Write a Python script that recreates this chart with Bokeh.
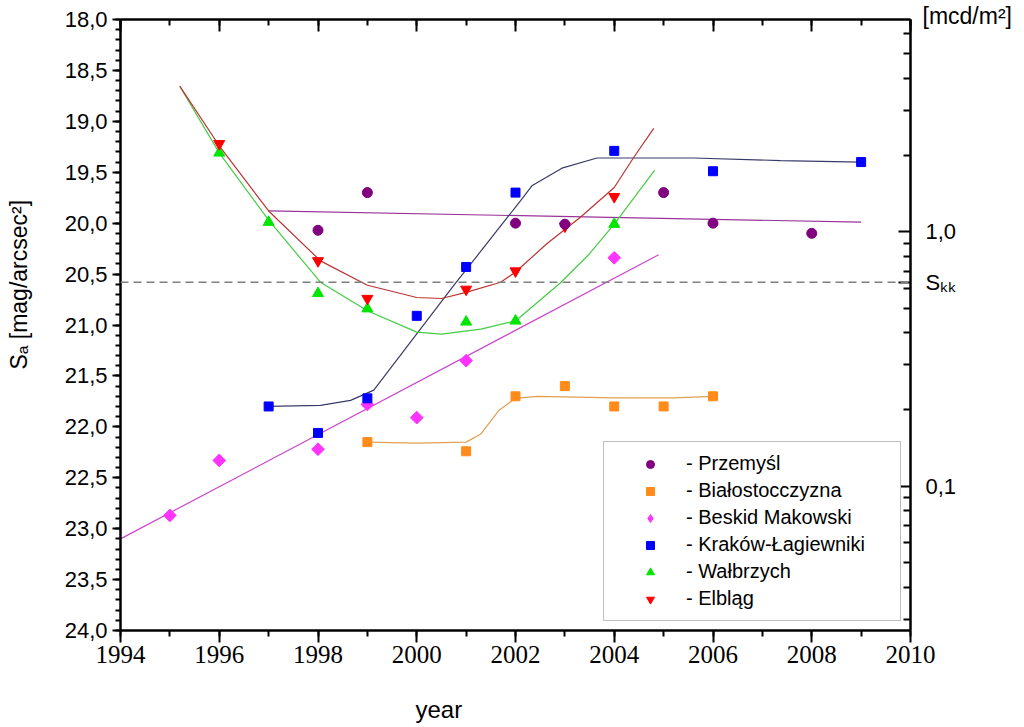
import math
from bokeh.plotting import figure
from bokeh.models import (Range1d, LinearAxis, LogAxis, LogScale, FixedTicker,
                          SingleIntervalTicker, CustomJSTickFormatter, Span,
                          Legend, LegendItem, CustomLabelingPolicy)
from bokeh.embed import file_html
from bokeh.resources import INLINE

# ---------------- data ----------------
przemysl_year = [1998, 1999, 2002, 2003, 2005, 2006, 2008]
przemysl_sa = [20.07, 19.70, 20.00, 20.01, 19.70, 20.00, 20.10]
przemysl_fit_year = [1997.0, 2009.0]
przemysl_fit_sa = [19.88, 19.99]

bialo_year = [1999, 2001, 2002, 2003, 2004, 2005, 2006]
bialo_sa = [22.15, 22.24, 21.70, 21.60, 21.80, 21.80, 21.70]
bialo_fit_year = [1999.0, 2000.0, 2001.0, 2001.3, 2001.66, 2002.0, 2002.44, 2003.0, 2004.0, 2005.2, 2006.0]
bialo_fit_sa = [22.15, 22.16, 22.15, 22.07, 21.84, 21.72, 21.70, 21.705, 21.715, 21.715, 21.70]

beskid_year = [1995, 1996, 1998, 1999, 2000, 2001, 2004]
beskid_sa = [22.87, 22.33, 22.22, 21.78, 21.91, 21.35, 20.34]
beskid_fit_year = [1994.0, 2004.9]
beskid_fit_sa = [23.10, 20.31]

krakow_year = [1997, 1998, 1999, 2000, 2001, 2002, 2004, 2006, 2009]
krakow_sa = [21.80, 22.06, 21.72, 20.91, 20.43, 19.70, 19.29, 19.49, 19.40]
krakow_fit_year = [1997.0, 1998.05, 1998.66, 1999.13, 2000.75, 2001.29, 2002.1, 2002.34,
                   2002.94, 2003.65, 2005.6, 2007.37, 2009.0]
krakow_fit_sa = [21.80, 21.79, 21.74, 21.64, 20.61, 20.28, 19.78, 19.63,
                 19.46, 19.36, 19.36, 19.385, 19.40]

walbrzych_year = [1996, 1997, 1998, 1999, 2001, 2002, 2004]
walbrzych_sa = [19.31, 19.99, 20.69, 20.84, 20.97, 20.96, 20.01]
walbrzych_fit_year = [1995.2, 1996.0, 1997.0, 1998.05, 1999.0, 2000.0, 2000.5, 2001.3,
                      2002.0, 2002.9, 2003.5, 2004.0, 2004.82]
walbrzych_fit_sa = [18.655, 19.31, 19.97, 20.58, 20.86, 21.07, 21.09, 21.04,
                    20.96, 20.59, 20.30, 20.01, 19.48]

elblag_year = [1996, 1998, 1999, 2001, 2002, 2003, 2004]
elblag_sa = [19.22, 20.37, 20.74, 20.65, 20.47, 20.03, 19.74]
elblag_fit_year = [1995.2, 1996.0, 1997.0, 1998.05, 1999.0, 2000.0, 2000.5, 2001.0,
                   2001.7, 2002.0, 2002.64, 2003.32, 2004.0, 2004.4, 2004.8]
elblag_fit_sa = [18.655, 19.24, 19.88, 20.37, 20.61, 20.73, 20.74, 20.68,
                 20.58, 20.48, 20.20, 19.94, 19.65, 19.35, 19.07]

skk_level = 20.58  # dashed reference line S_kk

legend_labels = ["- Przemyśl", "- Białostocczyzna", "- Beskid Makowski",
                 "- Kraków-Łagiewniki", "- Wałbrzych", "- Elbląg"]

# axis ranges / ticks
sa_min, sa_max = 18.0, 24.0
year_min, year_max = 1994, 2010
lum_major = [0.1, 1.0]
lum_minor = [0.03, 0.04, 0.05, 0.06, 0.07, 0.08, 0.09,
             0.2, 0.3, 0.4, 0.5, 0.6, 0.7, 0.8, 0.9, 2, 3, 4, 5, 6]


def sa_to_mcd(sa):
    # sky brightness [mag/arcsec^2] -> luminance [mcd/m^2]
    return 1.08e8 * 10 ** (-0.4 * sa)


skk_mcd = sa_to_mcd(skk_level)

FONT = "Liberation Sans"
NARROW = "Liberation Sans Narrow"
NBSP = "\u00a0"

p = figure(frame_width=790, frame_height=611, output_backend="svg", toolbar_location=None,
           x_range=Range1d(year_min, year_max), y_range=Range1d(sa_max, sa_min),
           min_border_left=120, min_border_right=112, min_border_top=19, min_border_bottom=95,
           x_axis_location=None, y_axis_location=None, outline_line_color=None,
           background_fill_color="white", border_fill_color="white")
p.grid.visible = False
p.extra_y_ranges = {"lum": Range1d(start=sa_to_mcd(sa_max), end=sa_to_mcd(sa_min))}
p.extra_y_scales = {"lum": LogScale()}

comma_fmt = CustomJSTickFormatter(code="return tick.toFixed(1).replace('.', ',');")


def style(ax):
    ax.axis_line_width = 2.5
    ax.axis_line_color = "black"
    ax.major_tick_line_width = 2
    ax.minor_tick_line_width = 2
    ax.major_tick_line_color = "black"
    ax.minor_tick_line_color = "black"
    ax.major_label_text_color = "black"


# bottom axis
xb = LinearAxis(ticker=SingleIntervalTicker(interval=2, num_minor_ticks=2),
                formatter=CustomJSTickFormatter(code="return tick.toFixed(0);"))
style(xb)
xb.major_tick_out = 12
xb.major_tick_in = 0
xb.minor_tick_out = 6
xb.minor_tick_in = 0
xb.major_label_standoff = 3
xb.major_label_text_font = NARROW
xb.major_label_text_font_size = "25px"
xb.axis_label = "year" + NBSP * 23
xb.axis_label_text_font = FONT
xb.axis_label_text_font_size = "24px"
xb.axis_label_text_font_style = "normal"
xb.axis_label_text_color = "black"
xb.axis_label_standoff = 30
p.add_layout(xb, "below")

# top axis (ticks only)
xt = LinearAxis(ticker=SingleIntervalTicker(interval=2, num_minor_ticks=2),
                major_label_policy=CustomLabelingPolicy(
                    code="for (const i of indices) { indices.unset(i) } return indices"))
style(xt)
xt.major_tick_in = 12
xt.major_tick_out = 0
xt.minor_tick_in = 6
xt.minor_tick_out = 0
xt.major_label_text_font_size = "1px"
xt.major_label_standoff = 0
p.add_layout(xt, "above")

# left axis
yl = LinearAxis(ticker=SingleIntervalTicker(interval=0.5, num_minor_ticks=5), formatter=comma_fmt)
style(yl)
yl.major_tick_out = 8
yl.major_tick_in = 0
yl.minor_tick_out = 5
yl.minor_tick_in = 0
yl.major_label_standoff = 5
yl.major_label_text_font = FONT
yl.major_label_text_font_size = "22px"
yl.axis_label = "\u2002" * 7 + "Sₐ [mag/arcsec²]"
yl.axis_label_text_font = FONT
yl.axis_label_text_font_size = "23px"
yl.axis_label_text_font_style = "normal"
yl.axis_label_text_color = "black"
yl.axis_label_standoff = 30
p.add_layout(yl, "left")

# right axis (luminance, log) ; the S_kk level is labelled on it
yr = LogAxis(y_range_name="lum",
             ticker=FixedTicker(ticks=lum_major + [skk_mcd], minor_ticks=lum_minor),
             formatter=CustomJSTickFormatter(
                 args=dict(skk=skk_mcd),
                 code="if (Math.abs(tick - skk) < 1e-9) { return 'Sₖₖ'; } "
                      "return tick.toFixed(1).replace('.', ',');"))
style(yr)
yr.major_tick_in = 12
yr.major_tick_out = 0
yr.minor_tick_in = 7
yr.minor_tick_out = 0
yr.major_label_standoff = 15
yr.major_label_text_font = FONT
yr.major_label_text_font_size = "22px"
p.add_layout(yr, "right")

# unit label of the right axis, at the top right
p.title.text = "[mcd/m²]"
p.title.align = "left"
p.title.offset = 802
p.title.standoff = -26
p.title.vertical_align = "bottom"
p.title.text_font = FONT
p.title.text_font_size = "23px"
p.title.text_font_style = "normal"
p.title.text_color = "black"

# dashed S_kk line
p.add_layout(Span(location=skk_level, dimension="width", line_color="#7f7f7f",
                  line_width=1.6, line_dash="8 5"))

# fit curves
p.line(przemysl_fit_year, przemysl_fit_sa, line_color="#993399", line_width=1.2)
p.line(bialo_fit_year, bialo_fit_sa, line_color="#E0A050", line_width=1.2)
p.line(beskid_fit_year, beskid_fit_sa, line_color="#CC44CC", line_width=1.2)
p.line(krakow_fit_year, krakow_fit_sa, line_color="#3A3A6A", line_width=1.2)
p.line(walbrzych_fit_year, walbrzych_fit_sa, line_color="#44CC44", line_width=1.2)
p.line(elblag_fit_year, elblag_fit_sa, line_color="#BB3333", line_width=1.2)

# markers
# narrow diamonds (used as the legend swatch) lie under the square-shaped diamonds
r_beskid_key = p.scatter(beskid_year, beskid_sa, marker="diamond", size=11,
                         fill_color="#FF33FF", line_color="#FF33FF")
p.scatter(beskid_year, beskid_sa, marker="square", angle=math.pi / 4, size=9,
          fill_color="#FF33FF", line_color="#FF33FF")
r_bialo = p.scatter(bialo_year, bialo_sa, marker="square", size=9,
                    fill_color="#FF8C1A", line_color="#FF8C1A")
r_krakow = p.scatter(krakow_year, krakow_sa, marker="square", size=9,
                     fill_color="#0000FF", line_color="#0000FF")
r_walb = p.scatter(walbrzych_year, walbrzych_sa, marker="triangle", size=11,
                   fill_color="#00E600", line_color="#00E600")
r_elblag = p.scatter(elblag_year, elblag_sa, marker="inverted_triangle", size=11,
                     fill_color="#FF0000", line_color="#FF0000")
r_przem = p.scatter(przemysl_year, przemysl_sa, marker="circle", size=10,
                    fill_color="#800080", line_color="#800080")

legend = Legend(items=[LegendItem(label=lab, renderers=[r]) for lab, r in
                       zip(legend_labels, [r_przem, r_bialo, r_beskid_key, r_krakow, r_walb, r_elblag])],
                location=(483, 9), margin=0, padding=10, spacing=4,
                glyph_width=72, glyph_height=20, label_height=20, label_standoff=0,
                label_width=204,
                label_text_font=FONT, label_text_font_size="20px", label_text_color="black",
                border_line_color="#7f7f7f", border_line_width=1.5,
                background_fill_color="white", background_fill_alpha=1.0)
p.add_layout(legend)

open("out.html", "w").write(file_html(p, INLINE))
